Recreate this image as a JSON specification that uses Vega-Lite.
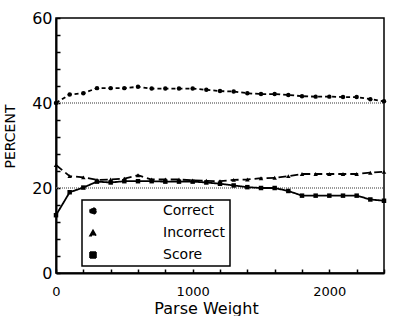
{
  "$schema": "https://vega.github.io/schema/vega-lite/v6.json",
  "autosize": {"type": "none"},
  "width": 328,
  "height": 255,
  "padding": {"left": 56, "top": 18, "right": 12, "bottom": 43},
  "background": "white",
  "config": {
    "font": "DejaVu Sans",
    "view": {"stroke": "black", "strokeWidth": 1.5},
    "axis": {"domainColor": "black", "domainWidth": 2, "tickColor": "black", "tickWidth": 1.5, "grid": false, "labelColor": "black", "titleColor": "black", "titleFontWeight": "normal", "labelOverlap": false}
  },
  "datasets": {
    "series": [
      {"w": 0, "s": "Correct", "p": 40.0}, {"w": 100, "s": "Correct", "p": 42.0}, {"w": 200, "s": "Correct", "p": 42.3},
      {"w": 300, "s": "Correct", "p": 43.5}, {"w": 400, "s": "Correct", "p": 43.5}, {"w": 500, "s": "Correct", "p": 43.5},
      {"w": 600, "s": "Correct", "p": 43.8}, {"w": 700, "s": "Correct", "p": 43.4}, {"w": 800, "s": "Correct", "p": 43.4},
      {"w": 900, "s": "Correct", "p": 43.4}, {"w": 1000, "s": "Correct", "p": 43.4}, {"w": 1100, "s": "Correct", "p": 43.1},
      {"w": 1200, "s": "Correct", "p": 42.8}, {"w": 1300, "s": "Correct", "p": 42.7}, {"w": 1400, "s": "Correct", "p": 42.3},
      {"w": 1500, "s": "Correct", "p": 42.1}, {"w": 1600, "s": "Correct", "p": 42.1}, {"w": 1700, "s": "Correct", "p": 41.9},
      {"w": 1800, "s": "Correct", "p": 41.6}, {"w": 1900, "s": "Correct", "p": 41.5}, {"w": 2000, "s": "Correct", "p": 41.5},
      {"w": 2100, "s": "Correct", "p": 41.4}, {"w": 2200, "s": "Correct", "p": 41.4}, {"w": 2300, "s": "Correct", "p": 40.9},
      {"w": 2400, "s": "Correct", "p": 40.4},
      {"w": 0, "s": "Incorrect", "p": 25.4}, {"w": 100, "s": "Incorrect", "p": 22.8}, {"w": 200, "s": "Incorrect", "p": 22.5},
      {"w": 300, "s": "Incorrect", "p": 21.9}, {"w": 400, "s": "Incorrect", "p": 22.0}, {"w": 500, "s": "Incorrect", "p": 22.2},
      {"w": 600, "s": "Incorrect", "p": 23.0}, {"w": 700, "s": "Incorrect", "p": 22.0}, {"w": 800, "s": "Incorrect", "p": 22.0},
      {"w": 900, "s": "Incorrect", "p": 22.0}, {"w": 1000, "s": "Incorrect", "p": 21.8}, {"w": 1100, "s": "Incorrect", "p": 21.7},
      {"w": 1200, "s": "Incorrect", "p": 21.6}, {"w": 1300, "s": "Incorrect", "p": 21.9}, {"w": 1400, "s": "Incorrect", "p": 22.0},
      {"w": 1500, "s": "Incorrect", "p": 22.3}, {"w": 1600, "s": "Incorrect", "p": 22.4}, {"w": 1700, "s": "Incorrect", "p": 22.8},
      {"w": 1800, "s": "Incorrect", "p": 23.3}, {"w": 1900, "s": "Incorrect", "p": 23.3}, {"w": 2000, "s": "Incorrect", "p": 23.3},
      {"w": 2100, "s": "Incorrect", "p": 23.3}, {"w": 2200, "s": "Incorrect", "p": 23.3}, {"w": 2300, "s": "Incorrect", "p": 23.6},
      {"w": 2400, "s": "Incorrect", "p": 23.8},
      {"w": 0, "s": "Score", "p": 13.6}, {"w": 100, "s": "Score", "p": 19.0}, {"w": 200, "s": "Score", "p": 20.1},
      {"w": 300, "s": "Score", "p": 21.5}, {"w": 400, "s": "Score", "p": 21.3}, {"w": 500, "s": "Score", "p": 21.6},
      {"w": 600, "s": "Score", "p": 21.6}, {"w": 700, "s": "Score", "p": 21.6}, {"w": 800, "s": "Score", "p": 21.5},
      {"w": 900, "s": "Score", "p": 21.5}, {"w": 1000, "s": "Score", "p": 21.5}, {"w": 1100, "s": "Score", "p": 21.3},
      {"w": 1200, "s": "Score", "p": 21.0}, {"w": 1300, "s": "Score", "p": 20.6}, {"w": 1400, "s": "Score", "p": 20.2},
      {"w": 1500, "s": "Score", "p": 20.0}, {"w": 1600, "s": "Score", "p": 20.0}, {"w": 1700, "s": "Score", "p": 19.3},
      {"w": 1800, "s": "Score", "p": 18.2}, {"w": 1900, "s": "Score", "p": 18.2}, {"w": 2000, "s": "Score", "p": 18.2},
      {"w": 2100, "s": "Score", "p": 18.2}, {"w": 2200, "s": "Score", "p": 18.2}, {"w": 2300, "s": "Score", "p": 17.3},
      {"w": 2400, "s": "Score", "p": 17.0}
    ],
    "refs": [{"r": 20}, {"r": 40}]
  },
  "encoding": {
    "x": {
      "field": "w", "type": "quantitative", "title": "Parse Weight",
      "scale": {"domain": [0, 2400], "nice": false, "zero": true},
      "axis": {
        "values": [0, 200, 400, 600, 800, 1000, 1200, 1400, 1600, 1800, 2000, 2200, 2400],
        "labelExpr": "datum.value % 1000 == 0 ? datum.value : ''",
        "tickSize": -4, "labelPadding": 16, "labelFontSize": 13, "labelFlush": false,
        "titleFontSize": 16, "titlePadding": 2, "titleX": 150
      }
    },
    "y": {
      "field": "p", "type": "quantitative", "title": "PERCENT",
      "scale": {"domain": [0, 60], "nice": false},
      "axis": {
        "values": [0, 4, 8, 12, 16, 20, 24, 28, 32, 36, 40, 44, 48, 52, 56, 60],
        "labelExpr": "datum.value % 20 == 0 ? datum.value : ''",
        "tickSize": -4, "labelPadding": 8, "labelFontSize": 16, "labelFlush": false,
        "titleFontSize": 14, "titlePadding": 14, "titleY": 118
      }
    }
  },
  "layer": [
    {
      "data": {"name": "refs"},
      "mark": {"type": "rule", "color": "#777777", "strokeWidth": 1.5, "strokeDash": [1, 1]},
      "encoding": {
        "x": {"value": 0},
        "x2": {"value": 328},
        "y": {"field": "r", "type": "quantitative"}
      }
    },
    {
      "data": {"name": "series"},
      "mark": {"type": "line", "color": "black", "strokeWidth": 1.8},
      "encoding": {
        "strokeDash": {
          "field": "s", "type": "nominal",
          "scale": {"domain": ["Correct", "Incorrect", "Score"], "range": [[4, 3], [8, 4], [1, 0]]},
          "legend": {
            "title": null, "orient": "none", "legendX": 26, "legendY": 182,
            "strokeColor": "black", "fillColor": "white",
            "padding": 4, "symbolType": "M-1,0H16", "symbolSize": 36, "symbolStrokeWidth": 1.6,
            "symbolStrokeColor": "black", "symbolFillColor": "black", "labelFontSize": 14, "labelOffset": 63,
            "rowPadding": 8,
            "encode": {
              "legend": {"update": {"strokeWidth": {"value": 1.5}}},
              "symbols": {"update": {"shape": {"signal": "datum.value == 'Correct' ? 'M-1,0H16M6.8,0a0.7,0.7 0 1,0 1.4,0a0.7,0.7 0 1,0 -1.4,0Z' : datum.value == 'Incorrect' ? 'M-1,0H16M6.7,0.7L7.5,-0.8L8.3,0.7Z' : 'M-1,0H16M6.8,-0.7H8.2V0.7H6.8Z'"}}}
            }
          }
        }
      }
    },
    {
      "data": {"name": "series"},
      "mark": {"type": "point", "filled": true, "color": "black", "size": 20, "opacity": 1},
      "encoding": {
        "shape": {
          "field": "s", "type": "nominal",
          "scale": {"domain": ["Correct", "Incorrect", "Score"], "range": ["circle", "triangle-up", "square"]},
          "legend": null
        }
      }
    }
  ]
}
